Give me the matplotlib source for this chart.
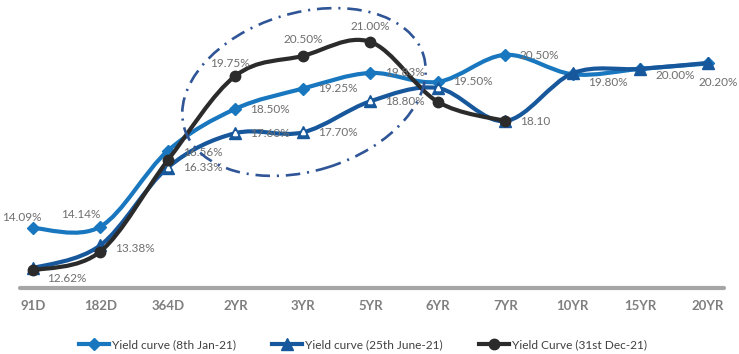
import numpy as np
import matplotlib
matplotlib.use("Agg")
import matplotlib.pyplot as plt
from matplotlib.path import Path
from matplotlib.patches import PathPatch, Ellipse
from matplotlib.lines import Line2D

plt.rcParams['font.family'] = ['Lato', 'DejaVu Sans']

cats = ['91D', '182D', '364D', '2YR', '3YR', '5YR', '6YR', '7YR', '10YR', '15YR', '20YR']
jan = [14.09, 14.14, 16.95, 18.50, 19.25, 19.83, 19.50, 20.50, 19.78, 19.98, 20.18]
jun = [12.60, 13.45, 16.33, 17.60, 17.63, 18.78, 19.27, 18.05, 19.82, 19.98, 20.20]
dec = [12.52, 13.22, 16.60, 19.72, 20.46, 20.98, 18.76, 18.05]

jan_lbl = ['14.09%', '14.14%', '16.56%', '18.50%', '19.25%', '19.83%', '19.50%', '20.50%', '19.80%', None, None]
jun_lbl = ['12.62%', '13.38%', '16.33%', '17.60%', '17.70%', '18.80%', None, '18.10', None, '20.00%', '20.20%']
dec_lbl = [None, None, None, '19.75%', '20.50%', '21.00%', None, None]

c_jan = '#1877BE'
c_jun = '#17579B'
c_dec = '#2B2B2B'
c_lbl = '#6E6E6E'


def smooth_path(xs, ys):
    # catmull-rom style bezier, like excel "smoothed line"
    p = np.column_stack([xs, ys]).astype(float)
    verts = [p[0]]
    codes = [Path.MOVETO]
    n = len(p)
    for i in range(n - 1):
        p0 = p[i - 1] if i > 0 else p[i]
        p3 = p[i + 2] if i + 2 < n else p[i + 1]
        c1 = p[i] + (p[i + 1] - p0) / 6
        c2 = p[i + 1] - (p3 - p[i]) / 6
        verts += [c1, c2, p[i + 1]]
        codes += [Path.CURVE4] * 3
    return Path(verts, codes)


fig = plt.figure(figsize=(7.39, 3.54), dpi=100)
ax = fig.add_axes([20 / 739, 66 / 354, 704 / 739, 288 / 354])

series = [
    (jan, c_jan, 'D', 6.5, 'Yield curve (8th Jan-21)'),
    (jun, c_jun, '^', 8.5, 'Yield curve (25th June-21)'),
    (dec, c_dec, 'o', 7.5, 'Yield Curve (31st Dec-21)'),
]
handles = []
for k, (vals, col, mk, ms, name) in enumerate(series):
    x = np.arange(len(vals))
    ax.add_patch(PathPatch(smooth_path(x, vals), fill=False, edgecolor=col,
                           lw=3.0, capstyle='round', joinstyle='round', zorder=2 + k))
    ax.plot(x, vals, ls='none', marker=mk, ms=ms, color=col, mec=col, zorder=2.5 + k)
    if mk == '^':
        ax.plot(x[2:7], vals[2:7], ls='none', marker='^', ms=3, color='white', mec='white', zorder=2.6 + k)
    handles.append(Line2D([], [], color=col, lw=3.0, marker=mk, ms=ms, mec=col))

# label offsets in pixels (dx, dy, ha)
jan_off = [(-11, 11, 'center'), (-20, 12, 'center'), (15, -2, 'left'), (15, -1, 'left'), (15, 0, 'left'),
           (15, 0, 'left'), (15, 0, 'left'), (14, -1, 'left'), (15, -8, 'left'), None, None]
jun_off = [(14, -10, 'left'), (15, -3, 'left'), (15, 0, 'left'), (15, 0, 'left'), (15, 0, 'left'),
           (15, 0, 'left'), None, (15, 0, 'left'), None, (15, -7, 'left'), (-9, -20, 'left')]
dec_off = [None, None, None, (-5, 12, 'center'), (0, 16, 'center'), (0, 15, 'center'), None, None]

for vals, lbls, offs in [(jan, jan_lbl, jan_off), (jun, jun_lbl, jun_off), (dec, dec_lbl, dec_off)]:
    for i, (v, t, o) in enumerate(zip(vals, lbls, offs)):
        if t is None:
            continue
        ax.annotate(t, (i, v), xytext=(o[0], o[1]), textcoords='offset pixels',
                    ha=o[2], va='center', fontsize=8.5, color=c_lbl, zorder=10)

ax.set_xlim(-0.19, 10.24)
ax.set_ylim(11.87, 22.53)
ax.set_xticks(range(len(cats)))
ax.set_xticklabels(cats, fontsize=9.5, fontweight='bold', color='#7F7F7F')
ax.tick_params(axis='x', length=0, pad=9)
ax.set_yticks([])
for s in ['top', 'left', 'right']:
    ax.spines[s].set_visible(False)
ax.spines['bottom'].set_color('#A6A6A6')
ax.spines['bottom'].set_linewidth(3.0)
ax.spines['bottom'].set_capstyle('round')

# dash-dot circle around 2YR-5YR
ell = Ellipse((3.04, 2.62), 2.50, 1.58, angle=17, transform=fig.dpi_scale_trans,
              fill=False, edgecolor='#2F5597', lw=1.9, linestyle=(0, (5.5, 2.6, 0.8, 2.6)), zorder=12)
fig.patches.append(ell)

fig.legend(handles, [s[4] for s in series], loc='center', bbox_to_anchor=(363 / 739, 1 - 345 / 354),
           ncol=3, frameon=False, fontsize=8.6, handlelength=2.5, handletextpad=0.3,
           columnspacing=3.0, labelcolor='#404040')

fig.savefig('out.png', dpi=100)
